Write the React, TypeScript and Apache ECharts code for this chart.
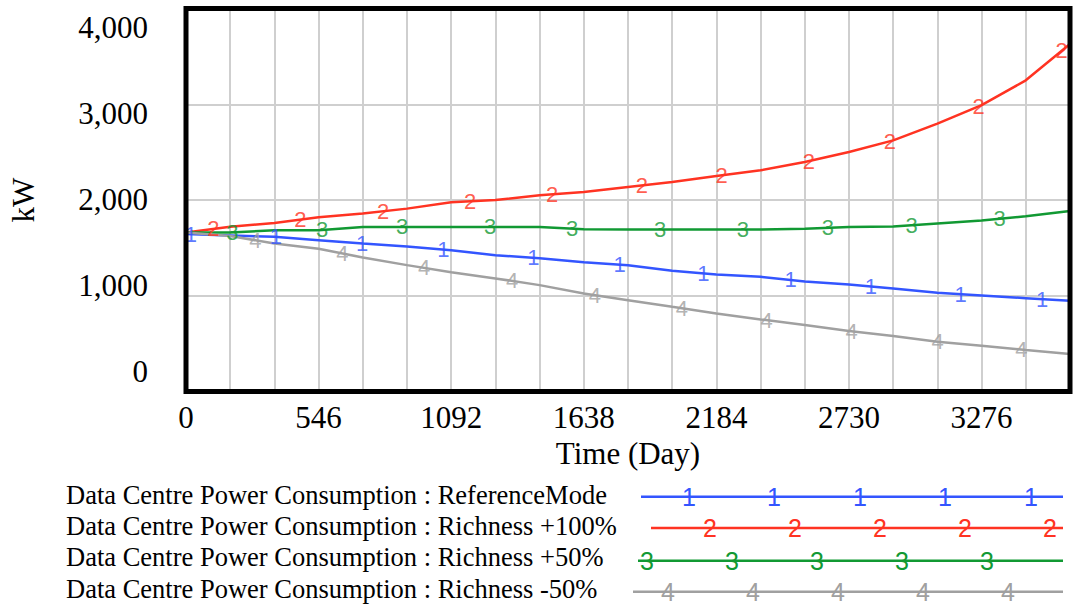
import React, { useEffect, useRef } from "react";
import * as echarts from "echarts";

// ---- data ----
const days = [0, 182, 364, 546, 728, 910, 1092, 1274, 1456, 1638, 1820, 2002, 2184, 2366, 2548, 2730, 2912, 3094, 3276, 3458, 3640];
const referenceMode = [1645, 1630, 1615, 1580, 1545, 1515, 1476, 1423, 1392, 1350, 1319, 1260, 1223, 1198, 1150, 1118, 1075, 1031, 1003, 975, 947];
const richness100 = [1660, 1720, 1760, 1820, 1858, 1910, 1976, 2000, 2049, 2084, 2136, 2188, 2250, 2310, 2397, 2501, 2623, 2797, 2990, 3250, 3630];
const richness50 = [1660, 1660, 1685, 1685, 1719, 1719, 1719, 1719, 1719, 1695, 1692, 1692, 1692, 1692, 1700, 1719, 1722, 1754, 1785, 1830, 1886];
const richnessMinus50 = [1660, 1625, 1545, 1490, 1400, 1320, 1245, 1181, 1111, 1024, 954, 884, 815, 753, 694, 631, 579, 520, 478, 433, 391];

const markerDays1 = [20, 370, 725, 1060, 1430, 1785, 2130, 2490, 2820, 3190, 3525];
const markerDays2 = [113, 471, 812, 1170, 1508, 1877, 2206, 2565, 2898, 3264, 3605];
const markerDays3 = [191, 561, 890, 1252, 1590, 1952, 2293, 2643, 2988, 3350];
const markerDays4 = [286, 644, 981, 1343, 1684, 2042, 2391, 2741, 3095, 3440];

const xTickLabels = [0, 546, 1092, 1638, 2184, 2730, 3276];
const yTickLabels = [0, 1000, 2000, 3000, 4000];

const seriesNames = [
  "Data Centre Power Consumption : ReferenceMode",
  "Data Centre Power Consumption : Richness +100%",
  "Data Centre Power Consumption : Richness +50%",
  "Data Centre Power Consumption : Richness -50%",
];
const seriesTags = ["1", "2", "3", "4"];

// ---- styles ----
const COLORS = ["#3355ff", "#ff3322", "#119933", "#a0a0a0"];
const SERIF = "'Liberation Serif', 'Times New Roman', serif";
const SANS = "'Liberation Sans', Arial, sans-serif";

function interp(xs: number[], ys: number[], d: number): number {
  for (let i = 1; i < xs.length; i++) {
    if (d <= xs[i]) {
      const t = (d - xs[i - 1]) / (xs[i] - xs[i - 1]);
      return ys[i - 1] + t * (ys[i] - ys[i - 1]);
    }
  }
  return ys[ys.length - 1];
}

export default function App() {
  const ref = useRef<HTMLDivElement>(null);
  useEffect(() => {
    if (!ref.current) return;
    const chart = echarts.init(ref.current, undefined, { renderer: "svg" });
    const valueSets = [referenceMode, richness100, richness50, richnessMinus50];
    const markerSets = [markerDays1, markerDays2, markerDays3, markerDays4];

    const lineSeries = valueSets.map((vals, k) => ({
      name: seriesNames[k],
      type: "line",
      xAxisIndex: 0,
      yAxisIndex: 0,
      data: days.map((d, i) => [d, vals[i]]),
      showSymbol: false,
      symbol: "none",
      lineStyle: { color: COLORS[k], width: 2.5 },
      itemStyle: { color: COLORS[k] },
      z: 3,
    }));
    const markerSeries = markerSets.map((mds, k) => ({
      name: seriesNames[k] + " tags",
      type: "scatter",
      xAxisIndex: 0,
      yAxisIndex: 0,
      data: mds.map((d) => [d, interp(days, valueSets[k], d)]),
      symbolSize: 1,
      itemStyle: { color: "rgba(0,0,0,0)" },
      label: {
        show: true,
        position: "inside",
        formatter: seriesTags[k],
        color: COLORS[k],
        fontSize: 22,
        fontFamily: SANS,
      },
      z: 4,
    }));

    // legend (graphic)
    const legendRows = [
      { y: 496, lineX: 641, lineY: 496.7, tags: [689, 774, 860, 945, 1031] },
      { y: 527, lineX: 651, lineY: 528, tags: [710, 795, 880, 965, 1050] },
      { y: 558, lineX: 638, lineY: 560.7, tags: [647, 732, 817, 902, 987] },
      { y: 590, lineX: 633, lineY: 591.7, tags: [668, 753, 838, 923, 1008] },
    ];
    const graphic: any[] = [];
    legendRows.forEach((r, k) => {
      graphic.push({
        type: "text",
        left: 66,
        top: r.y - 15,
        style: { text: seriesNames[k], font: `26.5px ${SERIF}`, fill: "#000", textVerticalAlign: "top" },
      });
      graphic.push({
        type: "line",
        shape: { x1: r.lineX, y1: r.lineY, x2: 1063, y2: r.lineY },
        style: { stroke: COLORS[k], lineWidth: 2.5 },
      });
      r.tags.forEach((tx) => {
        graphic.push({
          type: "text",
          x: tx,
          y: r.lineY,
          style: {
            text: seriesTags[k],
            font: `25px ${SANS}`,
            fill: COLORS[k],
            textAlign: "center",
            textVerticalAlign: "middle",
          },
        });
      });
    });

    chart.setOption({
      animation: false,
      backgroundColor: "#fff",
      grid: {
        left: 185.3,
        right: 8,
        top: 8.5,
        bottom: 215.5,
        show: true,
        borderColor: "#000",
        borderWidth: 5,
        backgroundColor: "transparent",
        z: 5,
      },
      xAxis: {
        type: "value",
        min: 0,
        max: 3640,
        interval: 182,
        axisLine: { show: false },
        axisTick: { show: false },
        splitLine: { show: true, lineStyle: { color: "#cfcfcf", width: 2 } },
        axisLabel: {
          formatter: (v: number) => (xTickLabels.indexOf(v) >= 0 ? String(v) : ""),
          fontSize: 31,
          lineHeight: 31,
          fontFamily: SERIF,
          color: "#000",
          margin: 10.5,
        },
        name: "Time (Day)",
        nameLocation: "middle",
        nameGap: 45.5,
        nameTextStyle: { fontSize: 31, lineHeight: 31, fontFamily: SERIF, color: "#000" },
      },
      yAxis: [
        {
          type: "value",
          min: 0,
          max: 4000,
          interval: 1000,
          axisLine: { show: false },
          axisTick: { show: false },
          axisLabel: { show: false },
          splitLine: { show: true, lineStyle: { color: "#cfcfcf", width: 2 } },
          name: "kW",
          nameLocation: "middle",
          nameRotate: 90,
          nameGap: 147,
          nameTextStyle: { fontSize: 31, lineHeight: 31, fontFamily: SERIF, color: "#000" },
        },
        {
          type: "value",
          min: -230.1,
          max: 4226.6,
          position: "left",
          axisLine: { show: false },
          axisTick: { show: false, customValues: yTickLabels },
          splitLine: { show: false },
          axisLabel: {
            customValues: yTickLabels,
            formatter: (v: number) => v.toLocaleString("en-US"),
            fontSize: 31,
            lineHeight: 31,
            fontFamily: SERIF,
            color: "#000",
            margin: 38,
          },
        },
      ],
      series: [...lineSeries, ...markerSeries],
      graphic,
    });
    return () => chart.dispose();
  }, []);
  return <div ref={ref} style={{ position: "fixed", left: 0, top: 0, width: 1078, height: 607 }} />;
}
